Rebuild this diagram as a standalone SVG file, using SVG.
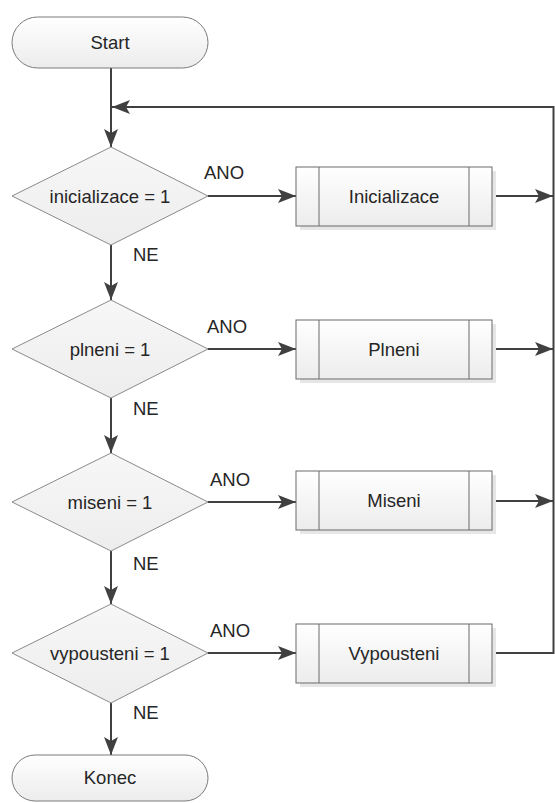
<svg xmlns="http://www.w3.org/2000/svg" width="555" height="803" viewBox="0 0 555 803">
<defs>
<linearGradient id="g" x1="0" y1="0" x2="0" y2="1"><stop offset="0" stop-color="#ffffff"/><stop offset="1" stop-color="#ececec"/></linearGradient>
<linearGradient id="gd" x1="0" y1="0" x2="0" y2="1"><stop offset="0" stop-color="#f7f7f7"/><stop offset="1" stop-color="#ededed"/></linearGradient>
<marker id="ahb" viewBox="0 0 18 14" refX="18" refY="7" markerWidth="18" markerHeight="14" markerUnits="userSpaceOnUse" orient="auto"><path d="M0,0 L18,7 L0,14 L4,7 Z" fill="#404040"/></marker>
</defs>
<style>
text{font-family:"Liberation Sans","Open Sans",sans-serif;font-size:18.5px;fill:#262626;text-anchor:middle}
.lbl{text-anchor:start}
.term{fill:url(#g);stroke:#7a7a7a;stroke-width:1}
.dia{fill:url(#gd);stroke:#8a8a8a;stroke-width:1}
.box{fill:url(#g);stroke:#6a6a6a;stroke-width:1}
.sh{fill:#e6e6e6}
.in{stroke:#6a6a6a;stroke-width:1}
.c{fill:none;stroke:#404040;stroke-width:2}
</style>
<g id="connectors">
<path class="c" d="M111,68 V147" marker-end="url(#ahb)"/>
<path class="c" d="M553.5,107 H112" marker-end="url(#ahb)"/>
<path class="c" d="M553.5,106 V654"/>
<path class="c" d="M111,245 V300" marker-end="url(#ahb)"/>
<path class="c" d="M111,398 V453" marker-end="url(#ahb)"/>
<path class="c" d="M111,551 V604" marker-end="url(#ahb)"/>
<path class="c" d="M111,703 V755" marker-end="url(#ahb)"/>
<path class="c" d="M208,196 H296" marker-end="url(#ahb)"/>
<path class="c" d="M208,349 H296" marker-end="url(#ahb)"/>
<path class="c" d="M208,502 H296" marker-end="url(#ahb)"/>
<path class="c" d="M208,653 H296" marker-end="url(#ahb)"/>
<path class="c" d="M492,196 H553" marker-end="url(#ahb)"/>
<path class="c" d="M492,349 H553" marker-end="url(#ahb)"/>
<path class="c" d="M492,501 H553" marker-end="url(#ahb)"/>
<path class="c" d="M492,653 H553.5"/>
<text class="lbl" x="204" y="179">ANO</text>
<text class="lbl" x="207" y="333">ANO</text>
<text class="lbl" x="210" y="486">ANO</text>
<text class="lbl" x="210" y="637">ANO</text>
<text class="lbl" x="133" y="261">NE</text>
<text class="lbl" x="133" y="415">NE</text>
<text class="lbl" x="133" y="570">NE</text>
<text class="lbl" x="133" y="719">NE</text>
</g>
<g id="start">
<rect class="term" x="12" y="17" width="196" height="51" rx="25.5"/>
<text x="110" y="49">Start</text>
</g>
<g id="d1">
<path class="dia" d="M111,147 L208,196 L111,245 L12,196 Z"/>
<text x="110" y="203">inicializace = 1</text>
</g>
<g id="d2">
<path class="dia" d="M111,300 L208,349 L111,398 L12,349 Z"/>
<text x="110" y="356">plneni = 1</text>
</g>
<g id="d3">
<path class="dia" d="M111,453 L208,502 L111,551 L12,502 Z"/>
<text x="110" y="509">miseni = 1</text>
</g>
<g id="d4">
<path class="dia" d="M111,604 L208,653 L111,703 L12,653 Z"/>
<text x="110" y="660">vypousteni = 1</text>
</g>
<g id="p1">
<rect class="sh" x="300" y="171" width="196" height="59"/>
<rect class="box" x="296" y="167" width="196" height="59"/>
<line class="in" x1="319" y1="167" x2="319" y2="226"/><line class="in" x1="469" y1="167" x2="469" y2="226"/>
<text x="394" y="203">Inicializace</text>
</g>
<g id="p2">
<rect class="sh" x="300" y="324" width="196" height="59"/>
<rect class="box" x="296" y="320" width="196" height="59"/>
<line class="in" x1="319" y1="320" x2="319" y2="379"/><line class="in" x1="469" y1="320" x2="469" y2="379"/>
<text x="394" y="356">Plneni</text>
</g>
<g id="p3">
<rect class="sh" x="300" y="475" width="196" height="59"/>
<rect class="box" x="296" y="471" width="196" height="59"/>
<line class="in" x1="319" y1="471" x2="319" y2="530"/><line class="in" x1="469" y1="471" x2="469" y2="530"/>
<text x="394" y="507">Miseni</text>
</g>
<g id="p4">
<rect class="sh" x="300" y="628" width="196" height="59"/>
<rect class="box" x="296" y="624" width="196" height="59"/>
<line class="in" x1="319" y1="624" x2="319" y2="683"/><line class="in" x1="469" y1="624" x2="469" y2="683"/>
<text x="394" y="660">Vypousteni</text>
</g>
<g id="end">
<rect class="term" x="12" y="755" width="196" height="46" rx="23"/>
<text x="110" y="784">Konec</text>
</g>
</svg>
